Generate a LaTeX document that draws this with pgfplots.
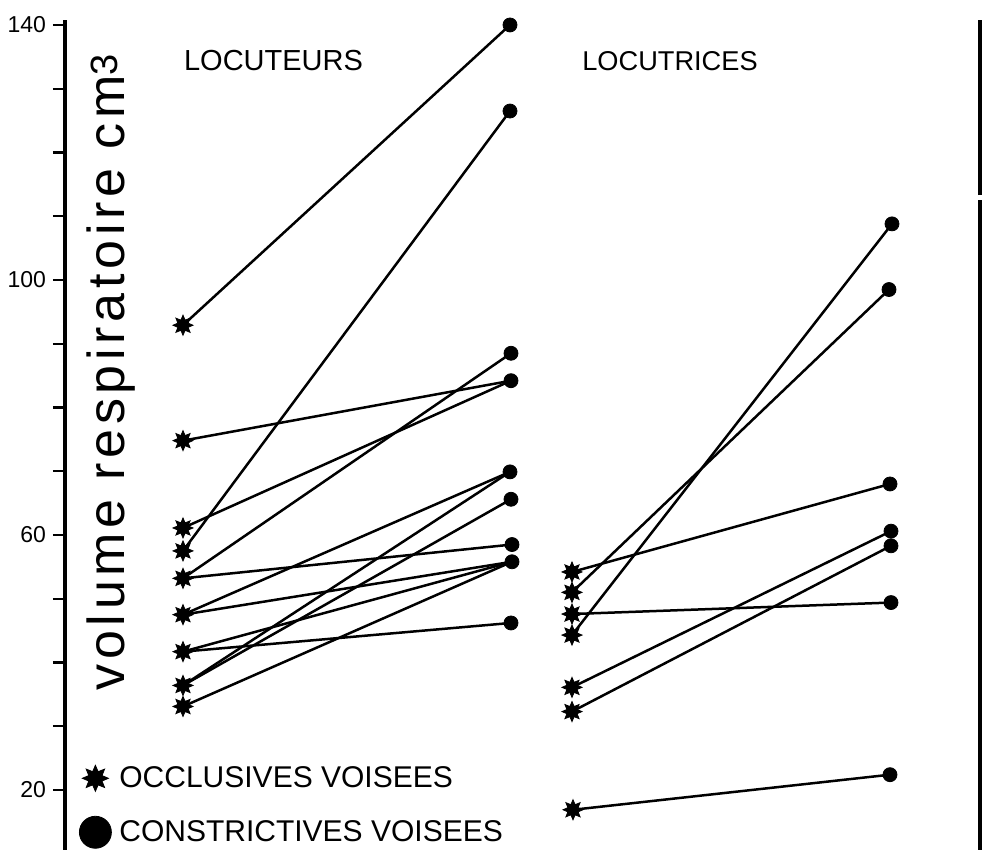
\documentclass[border=0pt]{standalone}
\usepackage{fontspec}
\setmainfont{Liberation Sans}
\newfontfamily\labelfont[LetterSpace=9]{Liberation Sans}
\usepackage{pgfplots}
\pgfplotsset{compat=1.18}

\pgfdeclareplotmark{star8}{%
  \pgfpathmoveto{\pgfpointpolar{90}{\pgfplotmarksize}}%
  \pgfpathlineto{\pgfpointpolar{112.5}{0.55\pgfplotmarksize}}%
  \pgfpathlineto{\pgfpointpolar{135}{\pgfplotmarksize}}%
  \pgfpathlineto{\pgfpointpolar{157.5}{0.55\pgfplotmarksize}}%
  \pgfpathlineto{\pgfpointpolar{180}{\pgfplotmarksize}}%
  \pgfpathlineto{\pgfpointpolar{202.5}{0.55\pgfplotmarksize}}%
  \pgfpathlineto{\pgfpointpolar{225}{\pgfplotmarksize}}%
  \pgfpathlineto{\pgfpointpolar{247.5}{0.55\pgfplotmarksize}}%
  \pgfpathlineto{\pgfpointpolar{270}{\pgfplotmarksize}}%
  \pgfpathlineto{\pgfpointpolar{292.5}{0.55\pgfplotmarksize}}%
  \pgfpathlineto{\pgfpointpolar{315}{\pgfplotmarksize}}%
  \pgfpathlineto{\pgfpointpolar{337.5}{0.55\pgfplotmarksize}}%
  \pgfpathlineto{\pgfpointpolar{0}{\pgfplotmarksize}}%
  \pgfpathlineto{\pgfpointpolar{22.5}{0.55\pgfplotmarksize}}%
  \pgfpathlineto{\pgfpointpolar{45}{\pgfplotmarksize}}%
  \pgfpathlineto{\pgfpointpolar{67.5}{0.55\pgfplotmarksize}}%
  \pgfpathclose
  \pgfusepathqfillstroke
}

\begin{document}
\begin{tikzpicture}
\begin{axis}[name=ax,
  scale only axis, width=457.5pt, height=415pt,
  xmin=65, xmax=980, ymin=10.59, ymax=140.78,
  axis x line=none, axis y line*=left,
  y axis line style={line width=1.6pt, black},
  ytick={20,60,100,140},
  minor ytick={30,40,50,70,80,90,110,120,130},
  tick align=outside, major tick length=6pt, minor tick length=6pt,
  every tick/.style={line width=1.1pt, black},
  yticklabel style={font=\fontsize{11.5}{13}\selectfont},
  /pgf/number format/assume math mode=true,
  clip=false,
  legend cell align=left,
  legend style={draw=none, fill=none, at={(axis cs:79,17.6)}, anchor=west,
    font=\fontsize{15}{18}\selectfont, row sep=11pt, inner sep=0pt, column sep=2pt},
]
% Locuteurs
\addplot[forget plot, black, line width=1.25pt] coordinates {(183,92.9) (510,140)};
\addplot[forget plot, black, line width=1.25pt] coordinates {(183,57.5) (510,126.5)};
\addplot[forget plot, black, line width=1.25pt] coordinates {(183,53.2) (511,88.5)};
\addplot[forget plot, black, line width=1.25pt] coordinates {(183,53.2) (512,58.5)};
\addplot[forget plot, black, line width=1.25pt] coordinates {(183,74.8) (511,84.2)};
\addplot[forget plot, black, line width=1.25pt] coordinates {(183,61.1) (511,84.2)};
\addplot[forget plot, black, line width=1.25pt] coordinates {(183,47.5) (510,69.9)};
\addplot[forget plot, black, line width=1.25pt] coordinates {(183,47.5) (512,55.8)};
\addplot[forget plot, black, line width=1.25pt] coordinates {(183,41.7) (512,55.8)};
\addplot[forget plot, black, line width=1.25pt] coordinates {(183,41.7) (511,46.2)};
\addplot[forget plot, black, line width=1.25pt] coordinates {(183,36.4) (510,69.9)};
\addplot[forget plot, black, line width=1.25pt] coordinates {(183,36.4) (511,65.6)};
\addplot[forget plot, black, line width=1.25pt] coordinates {(183,33.1) (512,55.8)};
% Locutrices
\addplot[forget plot, black, line width=1.25pt] coordinates {(572,54.2) (890,68.0)};
\addplot[forget plot, black, line width=1.25pt] coordinates {(572,51.0) (889,98.5)};
\addplot[forget plot, black, line width=1.25pt] coordinates {(572,47.6) (891,49.4)};
\addplot[forget plot, black, line width=1.25pt] coordinates {(572,44.3) (892,108.8)};
\addplot[forget plot, black, line width=1.25pt] coordinates {(572,36.1) (891,60.6)};
\addplot[forget plot, black, line width=1.25pt] coordinates {(572,32.3) (891,58.3)};
\addplot[forget plot, black, line width=1.25pt] coordinates {(573,16.9) (890,22.4)};
% marks
\addplot[forget plot, only marks, mark=star8, mark size=5pt, black] coordinates {
  (183,92.9)(183,74.8)(183,61.1)(183,57.5)(183,53.2)(183,47.5)(183,41.7)(183,36.4)(183,33.1)
  (572,54.2)(572,51.0)(572,47.6)(572,44.3)(572,36.1)(572,32.3)(573,16.9)};
\addplot[forget plot, only marks, mark=*, mark size=3.5pt, black] coordinates {
  (510,140)(510,126.5)(511,88.5)(511,84.2)(510,69.9)(511,65.6)(512,58.5)(512,55.8)(511,46.2)
  (892,108.8)(889,98.5)(890,68.0)(891,60.6)(891,58.3)(891,49.4)(890,22.4)};
\addlegendimage{only marks, mark=star8, mark size=6.5pt, black}
\addlegendentry{OCCLUSIVES VOISEES}
\addlegendimage{only marks, mark=*, mark size=8pt, black}
\addlegendentry{CONSTRICTIVES VOISEES}

\node[font=\fontsize{14.5}{17}\selectfont] at (axis cs:273.5,134.35) {LOCUTEURS};
\node[font=\fontsize{13.6}{17}\selectfont] at (axis cs:670,134.35) {LOCUTRICES};
\node[rotate=90, anchor=base, font=\labelfont\fontsize{26}{30}\selectfont] at (axis cs:125,85.5)
  {volume respiratoire cm\raisebox{4pt}{\fontsize{19}{20}\selectfont 3}};
\draw[line width=2.2pt, black] (axis cs:980,10.59) -- (axis cs:980,112.5);
\draw[line width=2.2pt, black] (axis cs:980,113.3) -- (axis cs:980,140.78);
\end{axis}
\pgfresetboundingbox
\path ([xshift=-32.5pt]ax.south west) rectangle ([xshift=1pt,yshift=10pt]ax.north east);
\end{tikzpicture}
\end{document}
